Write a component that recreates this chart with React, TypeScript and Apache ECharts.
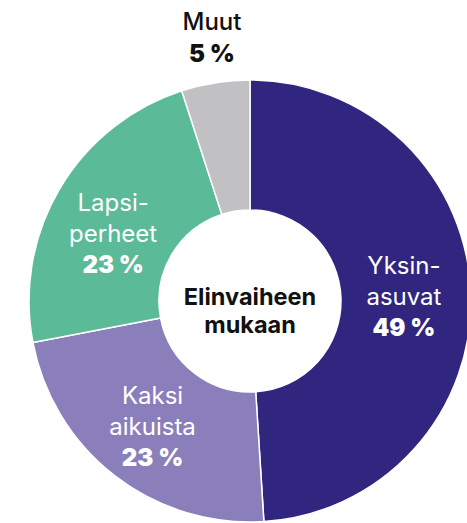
import React, { useEffect, useRef } from "react";
import * as echarts from "echarts";

const categories = ["Yksinasuvat", "Kaksi aikuista", "Lapsiperheet", "Muut"];
const labelLines = [["Yksin-", "asuvat"], ["Kaksi", "aikuista"], ["Lapsi-", "perheet"], ["Muut"]];
const values = [49, 23, 23, 5];
const colors = ["#31267f", "#8b7fbb", "#5bbb98", "#c1c1c3"];
const centerTitle = ["Elinvaiheen", "mukaan"];

export default function App() {
  const ref = useRef<HTMLDivElement>(null);
  useEffect(() => {
    const chart = echarts.init(ref.current!, null, { renderer: "svg" });
    const font = "Inter, 'Noto Sans', sans-serif";
    const data = categories.map((name, i) => {
      const inside = i < 3;
      return {
        name,
        value: values[i],
        itemStyle: { color: colors[i] },
        label: inside
          ? {
              show: true,
              position: "inside",
              formatter: () =>
                labelLines[i].map((l) => `{n|${l}}`).join("\n") + `\n{p|${values[i]} %}`,
              padding: i === 2 ? [26, 0, 0, 0] : i === 0 ? [0, 10, 0, 0] : 0,
            }
          : { show: false },
      };
    });
    const muutIdx = 3;
    chart.setOption({
      animation: false,
      graphic: [
        {
          type: "text",
          position: [250, 310],
          style: {
            text: centerTitle.join("\n"),
            textAlign: "center",
            textVerticalAlign: "middle",
            font: `bold 23.5px ${font}`,
            lineHeight: 28,
            fill: "#111",
          } as any,
        },
        {
          type: "text",
          position: [212, 21],
          style: {
            text: labelLines[muutIdx][0],
            textAlign: "center",
            textVerticalAlign: "middle",
            font: `500 24px ${font}`,
            fill: "#111",
          } as any,
        },
        {
          type: "text",
          position: [212, 53],
          style: {
            text: `${values[muutIdx]} %`,
            textAlign: "center",
            textVerticalAlign: "middle",
            font: `900 24px ${font}`,
            fill: "#111",
          } as any,
        },
      ],
      series: [
        {
          type: "pie",
          center: [250, 301],
          radius: [91, 221],
          startAngle: 90,
          clockwise: true,
          avoidLabelOverlap: false,
          itemStyle: { borderColor: "#ffffff", borderWidth: 1.5 },
          label: {
            color: "#fff",
            lineHeight: 31,
            rich: {
              n: { fontFamily: font, fontSize: 24, color: "#fff", lineHeight: 31 },
              p: { fontFamily: font, fontSize: 24, fontWeight: 900, color: "#fff", lineHeight: 31 },
            },
          },
          labelLine: { show: false },
          emphasis: { disabled: true },
          data,
        },
      ],
    });
    return () => chart.dispose();
  }, []);
  return (
    <div
      ref={ref}
      style={{ position: "fixed", left: 0, top: 0, width: 467, height: 523, background: "#fff" }}
    />
  );
}
